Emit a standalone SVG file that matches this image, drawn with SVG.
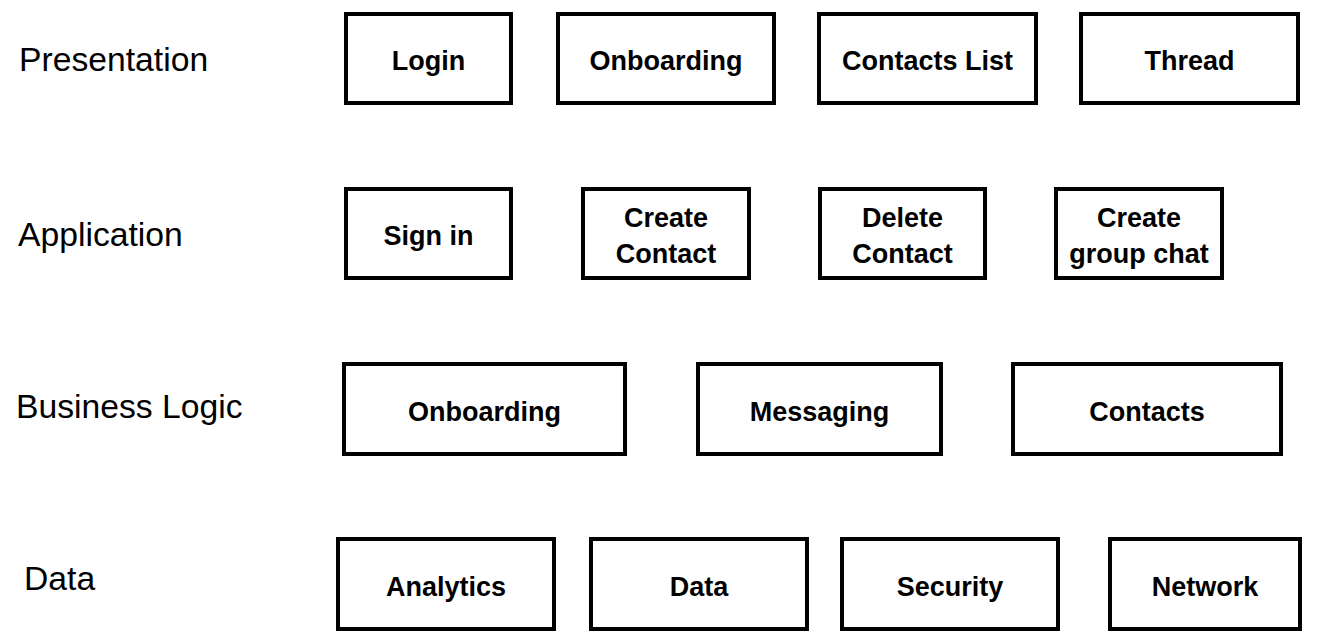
<svg xmlns="http://www.w3.org/2000/svg" width="1319" height="641" viewBox="0 0 1319 641">
<style>
.box{fill:#fff;stroke:#000;stroke-width:4}
.t{font-family:"Liberation Sans",Arial,Helvetica,sans-serif;font-weight:bold;font-size:27px;text-anchor:middle;fill:#000}
.lbl{font-family:"Liberation Sans",Arial,Helvetica,sans-serif;font-size:33.7px;fill:#000}
</style>
<rect width="1319" height="641" fill="#fff"/>
<g id="layer-labels">
<text class="lbl" x="19" y="71">Presentation</text>
<text class="lbl" x="18" y="246">Application</text>
<text class="lbl" x="16" y="418">Business Logic</text>
<text class="lbl" x="24" y="590">Data</text>
</g>
<g id="connectors"></g>
<g id="login"><rect class="box" x="346" y="14" width="165" height="89"/><text class="t" x="428.5" y="70">Login</text></g>
<g id="onboarding-ui"><rect class="box" x="558" y="14" width="216" height="89"/><text class="t" x="666" y="70">Onboarding</text></g>
<g id="contacts-list"><rect class="box" x="819" y="14" width="217" height="89"/><text class="t" x="927.5" y="70">Contacts List</text></g>
<g id="thread"><rect class="box" x="1081" y="14" width="217" height="89"/><text class="t" x="1189.5" y="70">Thread</text></g>
<g id="sign-in"><rect class="box" x="346" y="189" width="165" height="89"/><text class="t" x="428.5" y="245">Sign in</text></g>
<g id="create-contact"><rect class="box" x="583" y="189" width="166" height="89"/><text class="t" x="666" y="227">Create</text><text class="t" x="666" y="263">Contact</text></g>
<g id="delete-contact"><rect class="box" x="820" y="189" width="165" height="89"/><text class="t" x="902.5" y="227">Delete</text><text class="t" x="902.5" y="263">Contact</text></g>
<g id="create-group-chat"><rect class="box" x="1056" y="189" width="166" height="89"/><text class="t" x="1139" y="227">Create</text><text class="t" x="1139" y="263">group chat</text></g>
<g id="onboarding-bl"><rect class="box" x="344" y="364" width="281" height="90"/><text class="t" x="484.5" y="421">Onboarding</text></g>
<g id="messaging"><rect class="box" x="698" y="364" width="243" height="90"/><text class="t" x="819.5" y="421">Messaging</text></g>
<g id="contacts"><rect class="box" x="1013" y="364" width="268" height="90"/><text class="t" x="1147" y="421">Contacts</text></g>
<g id="analytics"><rect class="box" x="338" y="539" width="216" height="90"/><text class="t" x="446" y="596">Analytics</text></g>
<g id="data"><rect class="box" x="591" y="539" width="216" height="90"/><text class="t" x="699" y="596">Data</text></g>
<g id="security"><rect class="box" x="842" y="539" width="216" height="90"/><text class="t" x="950" y="596">Security</text></g>
<g id="network"><rect class="box" x="1110" y="539" width="190" height="90"/><text class="t" x="1205" y="596">Network</text></g>
</svg>
